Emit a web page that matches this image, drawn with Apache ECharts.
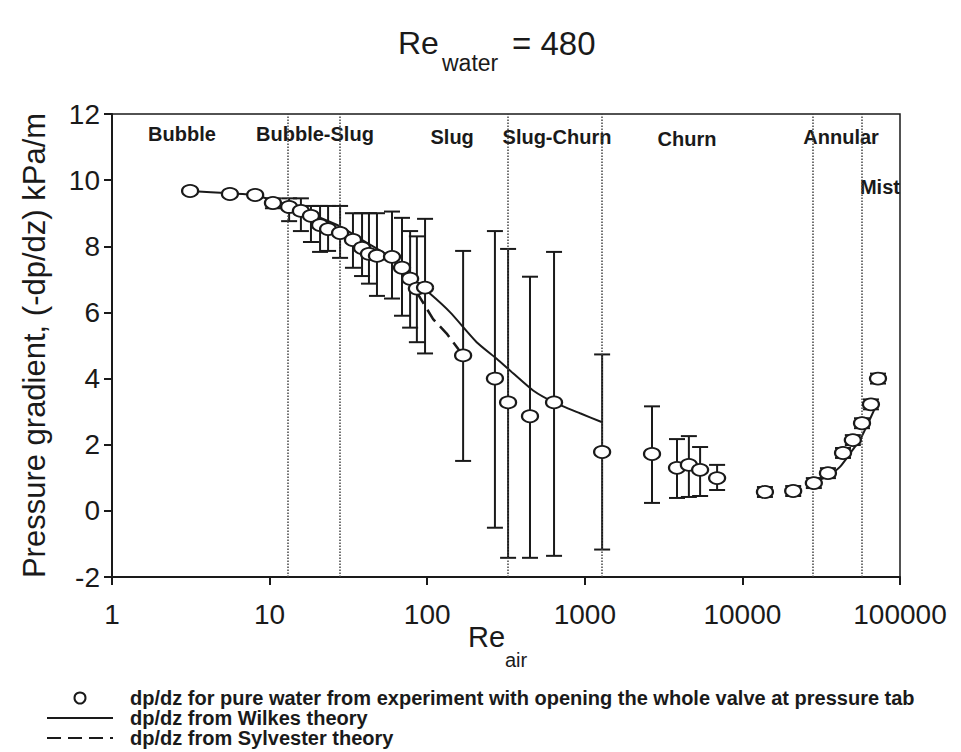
<!DOCTYPE html>
<html>
<head>
<meta charset="utf-8">
<script src="https://cdn.jsdelivr.net/npm/echarts@6/dist/echarts.min.js"></script>
<style>
  html, body { margin: 0; padding: 0; background: #fff; }
  #chart { width: 961px; height: 752px; }
</style>
</head>
<body>
<div id="chart"></div>
<script>
// ---------- data ----------
const reAir = [3.13, 5.6, 8.1, 10.5, 13.3, 15.8, 18.3, 20.9, 23.5, 28, 33.8, 38.6, 42.7, 48, 59.8, 69.2, 77.9, 86, 96.9,
  169, 269, 326, 449, 638, 1288, 2670, 3846, 4575, 5390, 6910,
  13900, 21000, 28400, 34900, 43500, 50200, 57400, 65400, 72500];
const dpdz = [9.67, 9.58, 9.55, 9.31, 9.19, 9.07, 8.92, 8.64, 8.52, 8.40, 8.19, 7.95, 7.77, 7.71, 7.68, 7.35, 7.02, 6.72, 6.75,
  4.70, 4.0, 3.28, 2.86, 3.28, 1.78, 1.72, 1.30, 1.39, 1.24, 0.99,
  0.57, 0.60, 0.84, 1.14, 1.75, 2.14, 2.65, 3.22, 4.0];
const errHigh = [null, null, null, 9.45, 9.45, 9.45, 9.22, 9.22, 9.22, 9.22, 9.0, 9.0, 9.0, 9.0, 9.05, 8.86, 8.46, 8.3, 8.83,
  7.86, 8.46, 7.92, 7.08, 7.83, 4.73, 3.16, 2.17, 2.26, 1.93, 1.39,
  0.72, 0.75, 0.99, 1.29, 1.9, 2.29, 2.8, 3.37, 4.15];
const errLow = [null, null, null, 9.15, 8.76, 8.46, 8.13, 7.83, 7.86, 7.65, 7.35, 7.1, 6.87, 6.5, 6.42, 5.9, 5.54, 5.1, 4.76,
  1.51, -0.51, -1.42, -1.42, -1.36, -1.17, 0.24, 0.39, 0.42, 0.45, 0.63,
  0.42, 0.45, 0.69, 0.99, 1.6, 1.99, 2.5, 3.07, 3.85];

const wilkesRe = [3.13, 5.6, 8.1, 10.5, 15, 20, 28, 40, 55, 78, 104, 140, 206, 276, 351, 470, 638, 933, 1290];
const wilkesDp = [9.67, 9.6, 9.55, 9.38, 9.15, 8.9, 8.6, 8.15, 7.75, 7.05, 6.57, 6.0, 5.1, 4.6, 4.16, 3.64, 3.28, 2.95, 2.68];
const wilkesAnnRe = [25700, 34900, 41600, 50200, 55700, 62000, 69300];
const wilkesAnnDp = [0.78, 1.05, 1.33, 1.85, 2.14, 2.6, 3.1];
const sylRe = [72, 90, 109, 133, 157, 168];
const sylDp = [7.15, 6.45, 5.8, 5.36, 4.9, 4.72];

const transitions = [13, 28, 325, 1280, 28000, 57000];
const regionNames = ['Bubble', 'Bubble-Slug', 'Slug', 'Slug-Churn', 'Churn', 'Annular', 'Mist'];
const regionRe = [2.78, 19.4, 144, 666, 4450, 42300, 74600];
const regionDp = [11.39, 11.39, 11.3, 11.3, 11.25, 11.3, 9.79];

const xTickLabels = ['1', '10', '100', '1000', '10000', '100000'];
const seriesNames = [
  'dp/dz for pure water from experiment with opening the whole valve at pressure tab',
  'dp/dz from Wilkes theory',
  'dp/dz from Sylvester theory'
];
const yAxisTitle = 'Pressure gradient, (-dp/dz) kPa/m';

// ---------- chart ----------
const ink = '#1a1a1a';
const FONT = 'Liberation Sans, Arial, sans-serif';
const chart = echarts.init(document.getElementById('chart'), null, { renderer: 'svg' });

const pts = reAir.map((x, i) => [x, dpdz[i]]);
const errData = [];
reAir.forEach((x, i) => { if (errHigh[i] !== null) errData.push([x, errLow[i], errHigh[i]]); });

const option = {
  backgroundColor: '#fff',
  animation: false,
  textStyle: { fontFamily: FONT, color: ink },
  grid: { left: 112, right: 61, top: 114, bottom: 175, show: true, borderColor: ink, borderWidth: 1.5, backgroundColor: 'transparent' },
  xAxis: {
    type: 'log', logBase: 10, min: 1, max: 100000,
    axisLine: { onZero: false, lineStyle: { color: ink, width: 2 } },
    axisTick: { inside: false, length: 8, lineStyle: { color: ink, width: 2 } },
    minorTick: { show: false },
    splitLine: { show: false },
    axisLabel: {
      fontSize: 28, color: ink, margin: 23, fontFamily: FONT,
      formatter: v => xTickLabels[Math.round(Math.log10(v))] || ''
    }
  },
  yAxis: {
    type: 'value', min: -2, max: 12, interval: 2,
    name: yAxisTitle, nameLocation: 'middle', nameGap: 62, nameRotate: 90,
    nameTextStyle: { fontSize: 31, color: ink, fontFamily: FONT },
    axisLine: { show: true, onZero: false, lineStyle: { color: ink, width: 2 } },
    axisTick: { show: true, inside: false, length: 8, lineStyle: { color: ink, width: 2 } },
    splitLine: { show: false },
    axisLabel: { fontSize: 28, color: ink, margin: 12, fontFamily: FONT }
  },
  legend: {
    orient: 'vertical', left: 46, top: 688, itemGap: 0, padding: 0, height: 70,
    itemWidth: 66, itemHeight: 11,
    data: [
      { name: seriesNames[0] },
      { name: seriesNames[1], itemStyle: { opacity: 0 } },
      { name: seriesNames[2], itemStyle: { opacity: 0 } }
    ],
    textStyle: { fontSize: 20, fontWeight: 'bold', color: ink, fontFamily: FONT, padding: [0, 0, 0, 12], lineHeight: 19 },
    selectedMode: false
  },
  series: [
    {
      name: 'transitions', type: 'line', data: [], silent: true,
      markLine: {
        silent: true, symbol: 'none', animation: false,
        lineStyle: { type: 'dotted', color: '#444', width: 1.5 },
        label: { show: false },
        data: transitions.map(v => ({ xAxis: v }))
      }
    },
    {
      name: 'regions', type: 'scatter', symbolSize: 0, silent: true,
      itemStyle: { color: ink, opacity: 1 },
      data: regionNames.map((n, i) => ({ name: n, value: [regionRe[i], regionDp[i]] })),
      label: { show: true, position: 'inside', formatter: '{b}', fontSize: 20, fontWeight: 'bold', color: ink,
        fontFamily: FONT, textBorderWidth: 0, textBorderColor: 'transparent', opacity: 1 },
      z: 1
    },
    {
      name: 'errorbars', type: 'custom', data: errData, encode: { x: 0, y: [1, 2] }, z: 2,
      renderItem: (params, api) => {
        const x = api.value(0), lo = api.value(1), hi = api.value(2);
        const t = api.coord([x, hi]), b = api.coord([x, lo]);
        const w = 8;
        const st = { stroke: ink, lineWidth: 2 };
        return {
          type: 'group', children: [
            { type: 'line', shape: { x1: t[0], y1: t[1], x2: b[0], y2: b[1] }, style: st },
            { type: 'line', shape: { x1: t[0] - w, y1: t[1], x2: t[0] + w, y2: t[1] }, style: st },
            { type: 'line', shape: { x1: b[0] - w, y1: b[1], x2: b[0] + w, y2: b[1] }, style: st }
          ]
        };
      }
    },
    {
      name: seriesNames[1], type: 'line', symbol: 'none', z: 3, smooth: 0.2,
      data: wilkesRe.map((x, i) => [x, wilkesDp[i]]),
      lineStyle: { color: ink, width: 2 }, itemStyle: { color: ink }
    },
    {
      name: seriesNames[1], type: 'line', symbol: 'none', z: 3, smooth: 0.2,
      data: wilkesAnnRe.map((x, i) => [x, wilkesAnnDp[i]]),
      lineStyle: { color: ink, width: 2 }, itemStyle: { color: ink }
    },
    {
      name: seriesNames[2], type: 'line', symbol: 'none', z: 3,
      data: sylRe.map((x, i) => [x, sylDp[i]]),
      lineStyle: { color: ink, width: 2.5, type: [14, 7] }, itemStyle: { color: ink }
    },
    {
      name: seriesNames[0], type: 'scatter', symbol: 'emptyCircle', symbolSize: [16, 12], z: 5,
      data: pts,
      itemStyle: { color: ink, borderColor: ink, borderWidth: 2, opacity: 1 }
    }
  ],
  graphic: [
    { type: 'text', left: 398, top: 27, style: { text: 'Re', font: '32px ' + FONT, fill: ink } },
    { type: 'text', left: 442, top: 51, style: { text: 'water', font: '23px ' + FONT, fill: ink } },
    { type: 'text', left: 512, top: 27, style: { text: '= 480', font: '33px ' + FONT, fill: ink } },
    { type: 'text', left: 468, top: 622, style: { text: 'Re', font: '29px ' + FONT, fill: ink } },
    { type: 'text', left: 505, top: 650, style: { text: 'air', font: '20px ' + FONT, fill: ink } }
  ]
};
chart.setOption(option);
</script>
</body>
</html>
